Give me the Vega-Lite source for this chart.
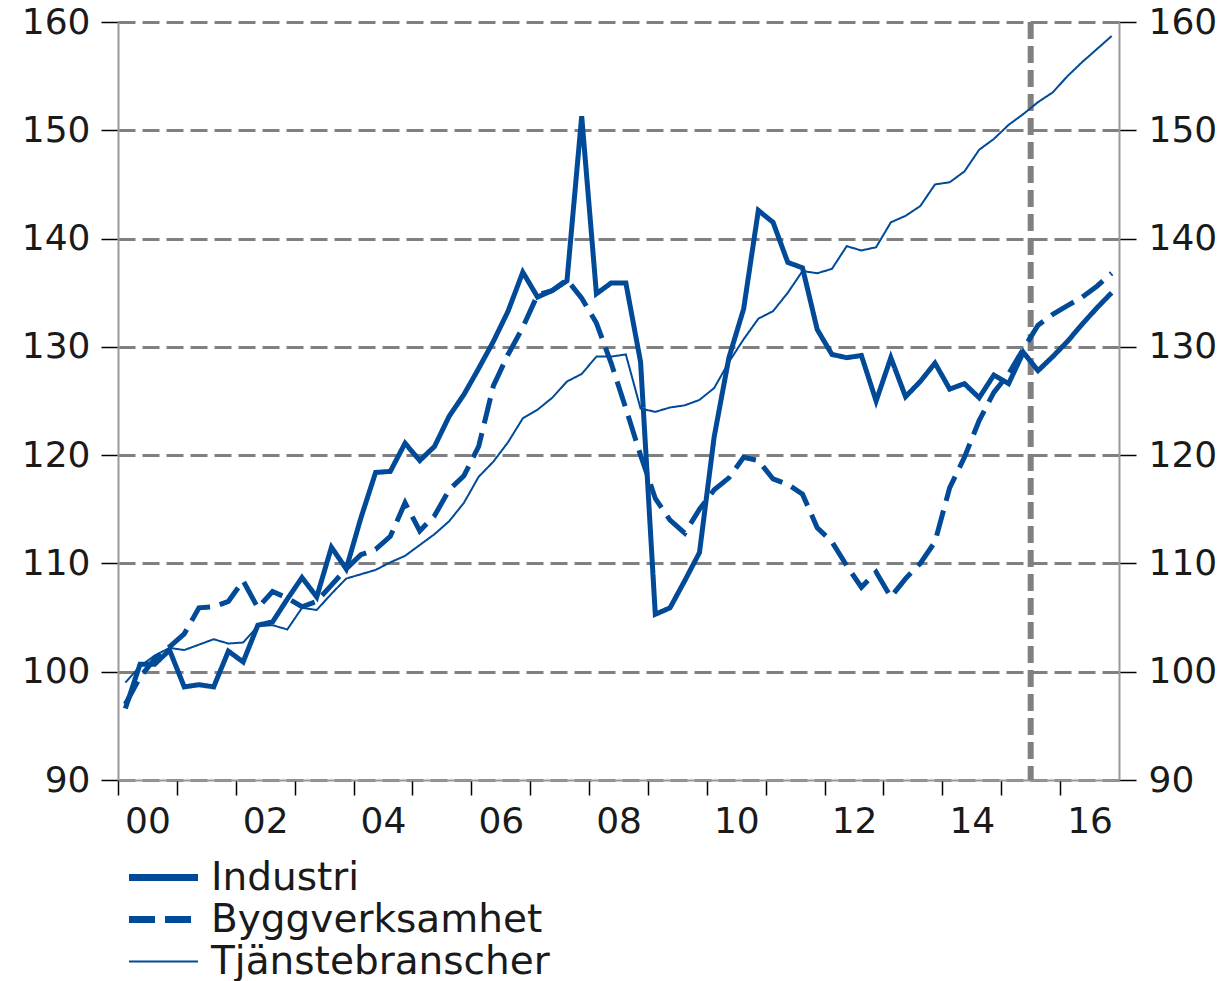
{
  "$schema": "https://vega.github.io/schema/vega-lite/v6.json",
  "autosize": {"type": "none"},
  "width": 1001,
  "height": 758,
  "padding": {"left": 118, "top": 22, "right": 110, "bottom": 201},
  "background": "white",
  "config": {"view": {"stroke": null}, "font": "DejaVu Sans"},
  "datasets": {
    "d": [
      {"t": 2000.125, "Industri": 96.6, "Byggverksamhet": 97.0, "Tjänstebranscher": 99.0},
      {"t": 2000.375, "Industri": 100.7, "Byggverksamhet": 99.5, "Tjänstebranscher": 100.5},
      {"t": 2000.625, "Industri": 100.7, "Byggverksamhet": 101.2, "Tjänstebranscher": 101.5},
      {"t": 2000.875, "Industri": 102.0, "Byggverksamhet": 102.3, "Tjänstebranscher": 102.2},
      {"t": 2001.125, "Industri": 98.6, "Byggverksamhet": 103.5, "Tjänstebranscher": 102.0},
      {"t": 2001.375, "Industri": 98.8, "Byggverksamhet": 105.9, "Tjänstebranscher": 102.5},
      {"t": 2001.625, "Industri": 98.6, "Byggverksamhet": 106.0, "Tjänstebranscher": 103.0},
      {"t": 2001.875, "Industri": 101.9, "Byggverksamhet": 106.5, "Tjänstebranscher": 102.6},
      {"t": 2002.125, "Industri": 100.9, "Byggverksamhet": 108.4, "Tjänstebranscher": 102.7},
      {"t": 2002.375, "Industri": 104.3, "Byggverksamhet": 105.9, "Tjänstebranscher": 104.2},
      {"t": 2002.625, "Industri": 104.6, "Byggverksamhet": 107.4, "Tjänstebranscher": 104.3},
      {"t": 2002.875, "Industri": 106.7, "Byggverksamhet": 106.8, "Tjänstebranscher": 103.9},
      {"t": 2003.125, "Industri": 108.7, "Byggverksamhet": 106.0, "Tjänstebranscher": 105.9},
      {"t": 2003.375, "Industri": 106.9, "Byggverksamhet": 106.5, "Tjänstebranscher": 105.7},
      {"t": 2003.625, "Industri": 111.5, "Byggverksamhet": 108.0, "Tjänstebranscher": 107.2},
      {"t": 2003.875, "Industri": 109.5, "Byggverksamhet": 109.5, "Tjänstebranscher": 108.6},
      {"t": 2004.125, "Industri": 114.2, "Byggverksamhet": 110.8, "Tjänstebranscher": 109.0},
      {"t": 2004.375, "Industri": 118.4, "Byggverksamhet": 111.3, "Tjänstebranscher": 109.4},
      {"t": 2004.625, "Industri": 118.5, "Byggverksamhet": 112.5, "Tjänstebranscher": 110.1},
      {"t": 2004.875, "Industri": 121.1, "Byggverksamhet": 115.6, "Tjänstebranscher": 110.7},
      {"t": 2005.125, "Industri": 119.5, "Byggverksamhet": 113.0, "Tjänstebranscher": 111.7},
      {"t": 2005.375, "Industri": 120.8, "Byggverksamhet": 114.4, "Tjänstebranscher": 112.7},
      {"t": 2005.625, "Industri": 123.6, "Byggverksamhet": 116.8, "Tjänstebranscher": 113.9},
      {"t": 2005.875, "Industri": 125.6, "Byggverksamhet": 118.1, "Tjänstebranscher": 115.6},
      {"t": 2006.125, "Industri": 128.0, "Byggverksamhet": 120.8, "Tjänstebranscher": 118.0},
      {"t": 2006.375, "Industri": 130.5, "Byggverksamhet": 126.4, "Tjänstebranscher": 119.4},
      {"t": 2006.625, "Industri": 133.3, "Byggverksamhet": 129.3, "Tjänstebranscher": 121.2},
      {"t": 2006.875, "Industri": 136.9, "Byggverksamhet": 131.8, "Tjänstebranscher": 123.4},
      {"t": 2007.125, "Industri": 134.6, "Byggverksamhet": 134.8, "Tjänstebranscher": 124.2},
      {"t": 2007.375, "Industri": 135.2, "Byggverksamhet": 135.2, "Tjänstebranscher": 125.3},
      {"t": 2007.625, "Industri": 136.1, "Byggverksamhet": 136.2, "Tjänstebranscher": 126.8},
      {"t": 2007.875, "Industri": 151.3, "Byggverksamhet": 134.5, "Tjänstebranscher": 127.5},
      {"t": 2008.125, "Industri": 134.9, "Byggverksamhet": 132.2, "Tjänstebranscher": 129.1},
      {"t": 2008.375, "Industri": 135.9, "Byggverksamhet": 128.5, "Tjänstebranscher": 129.1},
      {"t": 2008.625, "Industri": 135.9, "Byggverksamhet": 124.3, "Tjänstebranscher": 129.3},
      {"t": 2008.875, "Industri": 128.6, "Byggverksamhet": 120.0, "Tjänstebranscher": 124.3},
      {"t": 2009.125, "Industri": 105.3, "Byggverksamhet": 116.0, "Tjänstebranscher": 124.0},
      {"t": 2009.375, "Industri": 105.9, "Byggverksamhet": 114.0, "Tjänstebranscher": 124.4},
      {"t": 2009.625, "Industri": 108.4, "Byggverksamhet": 112.8, "Tjänstebranscher": 124.6},
      {"t": 2009.875, "Industri": 111.0, "Byggverksamhet": 115.0, "Tjänstebranscher": 125.1},
      {"t": 2010.125, "Industri": 121.7, "Byggverksamhet": 116.8, "Tjänstebranscher": 126.2},
      {"t": 2010.375, "Industri": 129.0, "Byggverksamhet": 117.9, "Tjänstebranscher": 128.6},
      {"t": 2010.625, "Industri": 133.5, "Byggverksamhet": 119.8, "Tjänstebranscher": 130.7},
      {"t": 2010.875, "Industri": 142.6, "Byggverksamhet": 119.5, "Tjänstebranscher": 132.6},
      {"t": 2011.125, "Industri": 141.5, "Byggverksamhet": 117.8, "Tjänstebranscher": 133.3},
      {"t": 2011.375, "Industri": 137.8, "Byggverksamhet": 117.3, "Tjänstebranscher": 135.0},
      {"t": 2011.625, "Industri": 137.3, "Byggverksamhet": 116.4, "Tjänstebranscher": 137.0},
      {"t": 2011.875, "Industri": 131.6, "Byggverksamhet": 113.3, "Tjänstebranscher": 136.8},
      {"t": 2012.125, "Industri": 129.3, "Byggverksamhet": 112.0, "Tjänstebranscher": 137.2},
      {"t": 2012.375, "Industri": 129.0, "Byggverksamhet": 109.8, "Tjänstebranscher": 139.3},
      {"t": 2012.625, "Industri": 129.2, "Byggverksamhet": 107.8, "Tjänstebranscher": 138.9},
      {"t": 2012.875, "Industri": 125.0, "Byggverksamhet": 109.2, "Tjänstebranscher": 139.2},
      {"t": 2013.125, "Industri": 129.0, "Byggverksamhet": 106.9, "Tjänstebranscher": 141.5},
      {"t": 2013.375, "Industri": 125.4, "Byggverksamhet": 108.6, "Tjänstebranscher": 142.1},
      {"t": 2013.625, "Industri": 126.8, "Byggverksamhet": 110.0, "Tjänstebranscher": 143.0},
      {"t": 2013.875, "Industri": 128.5, "Byggverksamhet": 112.0, "Tjänstebranscher": 145.0},
      {"t": 2014.125, "Industri": 126.1, "Byggverksamhet": 117.0, "Tjänstebranscher": 145.2},
      {"t": 2014.375, "Industri": 126.6, "Byggverksamhet": 119.8, "Tjänstebranscher": 146.2},
      {"t": 2014.625, "Industri": 125.3, "Byggverksamhet": 123.2, "Tjänstebranscher": 148.2},
      {"t": 2014.875, "Industri": 127.4, "Byggverksamhet": 125.8, "Tjänstebranscher": 149.2},
      {"t": 2015.125, "Industri": 126.6, "Byggverksamhet": 127.5, "Tjänstebranscher": 150.5},
      {"t": 2015.375, "Industri": 129.5, "Byggverksamhet": 129.8, "Tjänstebranscher": 151.5},
      {"t": 2015.625, "Industri": 127.8, "Byggverksamhet": 132.0, "Tjänstebranscher": 152.6},
      {"t": 2015.875, "Industri": 129.1, "Byggverksamhet": 133.0, "Tjänstebranscher": 153.5},
      {"t": 2016.125, "Industri": 130.5, "Byggverksamhet": 133.8, "Tjänstebranscher": 155.0},
      {"t": 2016.375, "Industri": 132.1, "Byggverksamhet": 134.6, "Tjänstebranscher": 156.3},
      {"t": 2016.625, "Industri": 133.6, "Byggverksamhet": 135.6, "Tjänstebranscher": 157.5},
      {"t": 2016.875, "Industri": 135.0, "Byggverksamhet": 136.8, "Tjänstebranscher": 158.7}
    ],
    "marker": [{"t": 2015.5}]
  },
  "encoding": {
    "x": {
      "field": "t",
      "type": "quantitative",
      "scale": {"domain": [2000, 2017], "nice": false, "zero": false},
      "axis": {
        "title": null,
        "values": [2000, 2001, 2002, 2003, 2004, 2005, 2006, 2007, 2008, 2009, 2010, 2011, 2012, 2013, 2014, 2015, 2016],
        "labelExpr": "datum.value % 2 == 0 ? substring(toString(datum.value), 2) : ''",
        "labelOffset": 29.5,
        "labelFlush": false,
        "labelOverlap": false,
        "labelBound": false,
        "labelFontSize": 36,
        "labelColor": "#1a1a1a",
        "labelPadding": 9,
        "tickSize": 15,
        "tickColor": "#000000",
        "tickWidth": 1.5,
        "domainColor": "#999999",
        "domainWidth": 2,
        "grid": false
      }
    }
  },
  "layer": [
    {
      "data": {"name": "marker"},
      "mark": {"type": "rule", "color": "#808080", "strokeWidth": 6, "strokeDash": [17, 7]},
      "encoding": {}
    },
    {
      "data": {"name": "d"},
      "transform": [{"fold": ["Industri"], "as": ["s", "v"]}],
      "mark": {"type": "line", "color": "#004a98", "strokeWidth": 5},
      "encoding": {
        "y": {
          "field": "v",
          "type": "quantitative",
          "scale": {"domain": [90, 160], "nice": false, "zero": false},
          "axis": {
            "orient": "left",
            "title": null,
            "values": [90, 100, 110, 120, 130, 140, 150, 160],
            "labelFontSize": 36,
            "labelColor": "#1a1a1a",
            "labelPadding": 11,
            "tickSize": 17,
            "tickColor": "#000000",
            "tickWidth": 1.5,
            "domainColor": "#999999",
            "domainWidth": 2,
            "grid": true,
            "gridColor": "#808080",
            "gridWidth": 3,
            "gridDash": [17, 7],
            "gridOpacity": 1
          }
        },
        "strokeDash": {
          "field": "s",
          "type": "nominal",
          "scale": {"domain": ["Industri", "Byggverksamhet", "Tjänstebranscher"], "range": [[1, 0], [26, 10], [1, 0]]},
          "legend": {
            "orient": "none",
            "legendX": 26,
            "legendY": 836,
            "title": null,
            "padding": 0,
            "symbolType": "stroke",
            "symbolSize": 4761,
            "symbolStrokeColor": "#004a98",
            "symbolStrokeWidth": 7,
            "labelFontSize": 39,
            "labelColor": "#1a1a1a",
            "labelOffset": 28,
            "labelLimit": 0,
            "rowPadding": 2,
            "encode": {
              "symbols": {"update": {"strokeWidth": {"signal": "datum.value === 'Tjänstebranscher' ? 2 : 7"}}}
            }
          }
        }
      }
    },
    {
      "data": {"name": "d"},
      "transform": [{"fold": ["Byggverksamhet"], "as": ["s", "v"]}],
      "mark": {"type": "line", "color": "#004a98", "strokeWidth": 5},
      "encoding": {
        "y": {"field": "v", "type": "quantitative", "scale": {"domain": [90, 160], "nice": false, "zero": false}, "axis": null},
        "strokeDash": {"field": "s", "type": "nominal"}
      }
    },
    {
      "data": {"name": "d"},
      "transform": [{"fold": ["Tjänstebranscher"], "as": ["s", "v"]}],
      "mark": {"type": "line", "color": "#004a98", "strokeWidth": 2},
      "encoding": {
        "y": {
          "field": "v",
          "type": "quantitative",
          "scale": {"domain": [90, 160], "nice": false, "zero": false},
          "axis": {
            "orient": "right",
            "title": null,
            "values": [90, 100, 110, 120, 130, 140, 150, 160],
            "labelFontSize": 36,
            "labelColor": "#1a1a1a",
            "labelPadding": 12,
            "tickSize": 17,
            "tickColor": "#000000",
            "tickWidth": 1.5,
            "domainColor": "#999999",
            "domainWidth": 2,
            "grid": false
          }
        },
        "strokeDash": {"field": "s", "type": "nominal"}
      }
    }
  ],
  "resolve": {"axis": {"y": "independent"}}
}
